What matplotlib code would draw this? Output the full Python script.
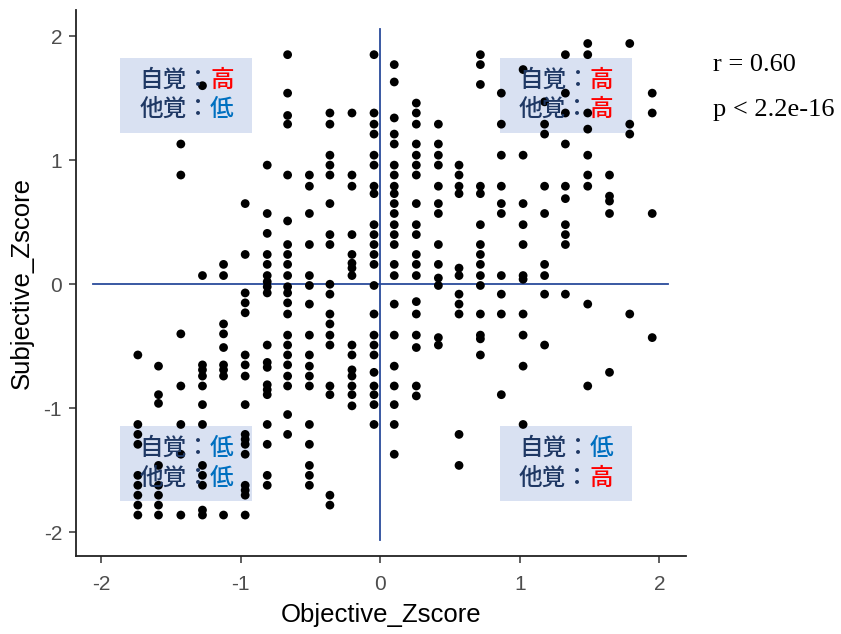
import matplotlib
matplotlib.use("Agg")
import matplotlib.pyplot as plt
from matplotlib.patches import Rectangle

# ----- Data -----
objective_cols = [-1.737, -1.589, -1.429, -1.274, -1.123, -0.968, -0.810, -0.664,
                  -0.508, -0.361, -0.203, -0.045, 0.100, 0.258, 0.416, 0.564,
                  0.717, 0.867, 1.023, 1.177, 1.326, 1.486, 1.642, 1.787, 1.948]

subjective_by_col = [
    [-0.57, -1.13, -1.21, -1.29, -1.54, -1.62, -1.70, -1.78, -1.86],
    [-0.66, -0.89, -0.96, -1.46, -1.62, -1.70, -1.78, -1.86],
    [1.13, 0.88, -0.40, -0.82, -1.13, -1.37, -1.86],
    [1.60, 0.07, -0.65, -0.69, -0.74, -0.82, -0.97, -1.13, -1.46, -1.54, -1.62, -1.82, -1.86],
    [0.16, 0.07, -0.32, -0.40, -0.51, -0.65, -0.69, -0.74, -1.86],
    [0.65, 0.24, -0.07, -0.15, -0.23, -0.57, -0.65, -0.74, -0.97, -1.21, -1.25, -1.29,
     -1.37, -1.62, -1.66, -1.70, -1.86],
    [0.96, 0.57, 0.41, 0.24, 0.16, 0.07, 0.02, -0.02, -0.07, -0.49, -0.63, -0.67, -0.81,
     -0.85, -0.89, -1.13, -1.29, -1.54, -1.62],
    [1.85, 1.54, 1.36, 1.29, 0.88, 0.51, 0.32, 0.24, 0.16, 0.07, -0.02, -0.07, -0.15,
     -0.24, -0.41, -0.49, -0.57, -0.65, -0.74, -0.82, -1.05, -1.21],
    [0.88, 0.79, 0.57, 0.32, 0.07, -0.01, -0.16, -0.41, -0.57, -0.66, -0.74, -0.82,
     -1.13, -1.29, -1.46, -1.54, -1.62],
    [1.38, 1.29, 1.04, 0.96, 0.88, 0.65, 0.40, 0.32, 0.00, -0.08, -0.24, -0.32, -0.41,
     -0.49, -0.82, -0.89, -1.70, -1.78],
    [1.38, 0.88, 0.79, 0.40, 0.24, 0.17, 0.13, 0.07, -0.49, -0.57, -0.69, -0.74, -0.82,
     -0.89, -0.98],
    [1.85, 1.38, 1.29, 1.21, 1.04, 0.96, 0.79, 0.73, 0.48, 0.40, 0.32, 0.24, 0.16, -0.01,
     -0.24, -0.41, -0.49, -0.57, -0.71, -0.82, -0.89, -0.97, -1.13],
    [1.77, 1.63, 1.34, 1.21, 1.13, 0.96, 0.88, 0.79, 0.73, 0.65, 0.57, 0.48, 0.40, 0.32,
     0.16, 0.07, -0.16, -0.41, -0.66, -0.82, -0.97, -1.13, -1.37],
    [1.46, 1.38, 1.29, 1.13, 1.04, 0.96, 0.88, 0.65, 0.48, 0.40, 0.24, 0.16, 0.07, -0.14,
     -0.24, -0.41, -0.51, -0.82, -0.90],
    [1.29, 1.13, 1.04, 0.96, 0.79, 0.65, 0.57, 0.32, 0.16, 0.05, -0.01, -0.43, -0.49],
    [0.96, 0.88, 0.79, 0.73, 0.13, 0.07, -0.08, -0.16, -0.24, -1.21, -1.46],
    [1.85, 1.77, 1.61, 0.79, 0.73, 0.48, 0.32, 0.24, 0.16, 0.07, -0.01, -0.24, -0.41,
     -0.44, -0.57],
    [1.54, 1.29, 1.04, 0.79, 0.65, 0.57, 0.07, -0.08, -0.24, -0.89],
    [1.73, 1.04, 0.65, 0.48, 0.32, 0.07, 0.04, -0.24, -0.41, -0.66, -1.13],
    [1.47, 1.29, 1.21, 0.79, 0.57, 0.16, 0.07, -0.08, -0.49],
    [1.85, 1.54, 1.38, 1.13, 0.79, 0.69, 0.48, 0.40, 0.32, -0.08],
    [1.94, 1.85, 1.38, 1.25, 1.04, 0.88, 0.79, -0.16, -0.82],
    [0.88, 0.71, 0.67, 0.57, -0.71],
    [1.94, 1.29, 1.21, -0.24],
    [1.54, 1.38, 0.57, -0.43],
]

tick_values = [-2, -1, 0, 1, 2]
ref_span = [-2.06, 2.06]

# quadrant labels: (box centre x, box centre y, 自覚 level, 他覚 level)
quadrants = [
    (-1.391, 1.524, "高", "低"),
    (1.330, 1.524, "高", "高"),
    (-1.391, -1.444, "低", "低"),
    (1.330, -1.444, "低", "高"),
]
stats_lines = ["r = 0.60", "p < 2.2e-16"]

# ----- Style -----
C_POINT = "black"
C_REF = "#2A4B9B"
C_BOX = "#D9E1F2"
C_NAVY = "#1F3864"
LEVEL_COLOUR = {"高": "#FF0000", "低": "#0070C0"}
CJK = ["Noto Sans CJK JP", "DejaVu Sans"]

plt.rcParams["font.family"] = ["Liberation Sans", "DejaVu Sans"]

xs, ys = [], []
for x, col in zip(objective_cols, subjective_by_col):
    xs.extend([x] * len(col))
    ys.extend(col)

fig = plt.figure(figsize=(8.41, 6.34), dpi=100)
ax = fig.add_axes([76 / 841, 78 / 634, 610 / 841, 546 / 634])

# quadrant boxes (under the points)
bw, bh = 0.946, 0.605
for cx, cy, self_lv, other_lv in quadrants:
    ax.add_patch(Rectangle((cx - bw / 2, cy - bh / 2), bw, bh,
                           facecolor=C_BOX, edgecolor="none", zorder=1))
    split = cx + 0.172
    for dy, head, lv in ((0.122, "自覚：", self_lv), (-0.118, "他覚：", other_lv)):
        ax.text(split, cy + dy, head, ha="right", va="center", fontsize=17,
                color=C_NAVY, family=CJK, fontweight="medium", zorder=4)
        ax.text(split, cy + dy, lv, ha="left", va="center", fontsize=17,
                color=LEVEL_COLOUR[lv], family=CJK, fontweight="medium", zorder=4)

ax.scatter(xs, ys, s=40, color=C_POINT, edgecolors="none", zorder=3)
ax.plot(ref_span, [0, 0], color=C_REF, lw=1.3, zorder=2)
ax.plot([0, 0], ref_span, color=C_REF, lw=1.3, zorder=2)

ax.set_xlim(-2.18, 2.19)
ax.set_ylim(-2.19, 2.21)
ax.set_xticks(tick_values)
ax.set_yticks(tick_values)
ax.set_xticklabels([str(v) for v in tick_values])
ax.set_yticklabels([str(v) for v in tick_values])
ax.tick_params(length=5, width=1.1, color="#333333", labelsize=15,
               labelcolor="#4D4D4D")
ax.tick_params(axis="x", pad=9)
ax.tick_params(axis="y", pad=5)
for side in ("top", "right"):
    ax.spines[side].set_visible(False)
for side in ("left", "bottom"):
    ax.spines[side].set_linewidth(1.3)
    ax.spines[side].set_color("#222222")

ax.set_xlabel("Objective_Zscore", fontsize=18.5, labelpad=6)
ax.set_ylabel("Subjective_Zscore", fontsize=18.5, labelpad=7)

fig.text(713 / 841, 1 - 65 / 634, stats_lines[0], ha="left", va="center",
         fontsize=19, family="Liberation Serif")
fig.text(713 / 841, 1 - 110 / 634, stats_lines[1], ha="left", va="center",
         fontsize=19, family="Liberation Serif")

fig.savefig("out.png", dpi=100, facecolor="white")
